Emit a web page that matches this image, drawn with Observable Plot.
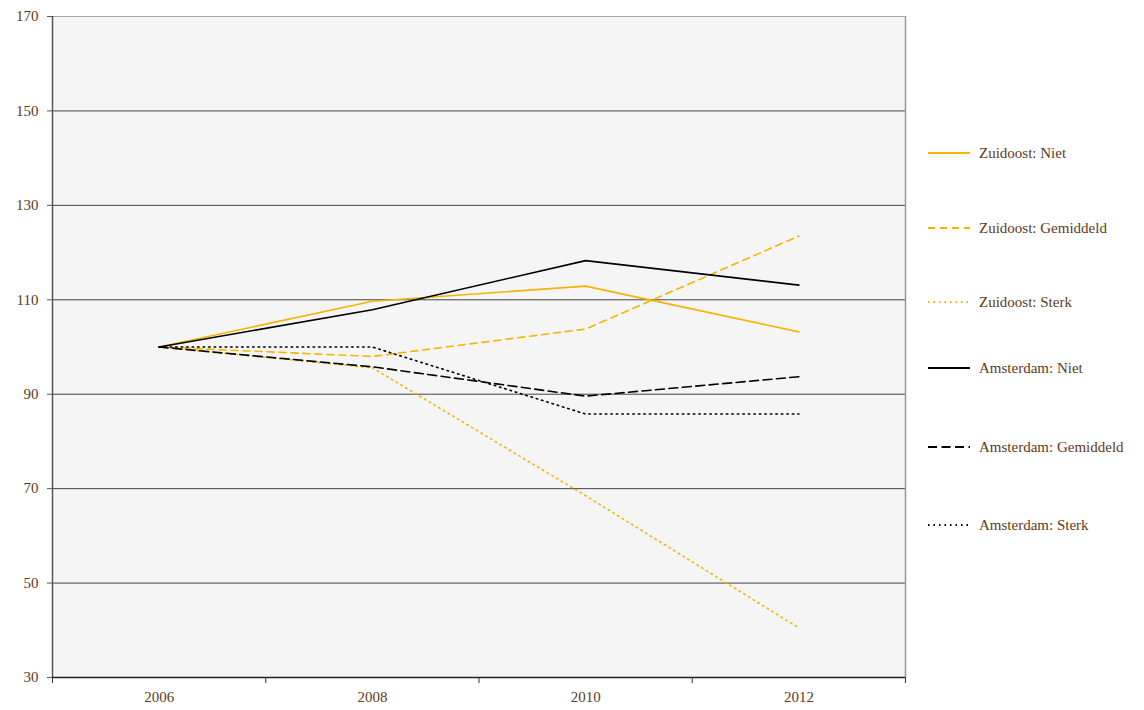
<!DOCTYPE html>
<html>
<head>
<meta charset="utf-8">
<script src="https://cdn.jsdelivr.net/npm/d3@7"></script>
<script src="https://cdn.jsdelivr.net/npm/@observablehq/plot@0.6"></script>
<style>
  body { margin: 0; background: #fff; }
  #wrap { position: relative; width: 1144px; height: 710px; }
  #legend { position: absolute; left: 0; top: 0; width: 1144px; height: 710px; pointer-events: none; }
  .lg { position: absolute; display: flex; align-items: center; font-family: "Liberation Serif", serif; font-size: 15px; color: #5b3b1c; white-space: nowrap; }
  .lg svg { margin-right: 8px; }
</style>
</head>
<body>
<div id="wrap"></div>
<script>
const years = [2006, 2008, 2010, 2012];
const seriesNames = ["Zuidoost: Niet", "Zuidoost: Gemiddeld", "Zuidoost: Sterk", "Amsterdam: Niet", "Amsterdam: Gemiddeld", "Amsterdam: Sterk"];
const zuidoostNiet = [100, 109.7, 112.9, 103.2];
const zuidoostGemiddeld = [100, 98.0, 103.8, 123.5];
const zuidoostSterk = [100, 95.6, 68.5, 40.5];
const amsterdamNiet = [100, 107.9, 118.3, 113.1];
const amsterdamGemiddeld = [100, 95.8, 89.6, 93.7];
const amsterdamSterk = [100, 100, 85.8, 85.8];
const yTicks = [30, 50, 70, 90, 110, 130, 150, 170];

const seriesValues = [zuidoostNiet, zuidoostGemiddeld, zuidoostSterk, amsterdamNiet, amsterdamGemiddeld, amsterdamSterk];
const styles = [
  {stroke: "#f5b400", dash: null},
  {stroke: "#f5b400", dash: "7,5"},
  {stroke: "#f5b400", dash: "1.5,4"},
  {stroke: "#000000", dash: null},
  {stroke: "#000000", dash: "9,4.5"},
  {stroke: "#000000", dash: "1.5,4"}
];
const rows = [];
seriesNames.forEach((name, i) => years.forEach((yr, j) => rows.push({series: name, year: yr, value: seriesValues[i][j]})));
const boundaries = [years[0] - 1, ...years.map(y => y + 1)];

const textColor = "#5b3b1c";
const lineMarks = seriesNames.map((name, i) => Plot.line(rows.filter(d => d.series === name), {
  x: "year", y: "value", stroke: styles[i].stroke, strokeWidth: 1.6,
  strokeDasharray: styles[i].dash || undefined
}));

const chart = Plot.plot({
  width: 1144, height: 710,
  marginLeft: 52, marginRight: 239, marginTop: 16, marginBottom: 33,
  style: {fontFamily: "Liberation Serif, serif", fontSize: "15px", color: textColor, background: "transparent"},
  x: {domain: [boundaries[0], boundaries[boundaries.length - 1]]},
  y: {domain: [yTicks[0], yTicks[yTicks.length - 1]]},
  marks: [
    Plot.frame({fill: "#f5f5f5", stroke: null}),
    Plot.ruleY(yTicks.slice(1, -1), {stroke: "#444", strokeWidth: 1}),
    Plot.ruleY([yTicks[yTicks.length - 1]], {stroke: "#aaa", strokeWidth: 1}),
    Plot.ruleX([boundaries[boundaries.length - 1]], {stroke: "#999", strokeWidth: 1.5}),
    Plot.ruleX([boundaries[0]], {stroke: "#555", strokeWidth: 1.5}),
    ...lineMarks,
    Plot.ruleY([yTicks[0]], {stroke: "#222", strokeWidth: 1.5}),
    Plot.axisY({ticks: yTicks, tickSize: 5, tickPadding: 9, stroke: "#555", fill: textColor, label: null, tickFormat: d => String(d)}),
    Plot.axisX({ticks: boundaries, tickSize: 6, tickFormat: () => "", stroke: "#333", label: null}),
    Plot.axisX({ticks: years, tickSize: 0, tickPadding: 14, fill: textColor, label: null, tickFormat: d => String(d)})
  ]
});
document.getElementById("wrap").appendChild(chart);

// legend
const legend = document.createElement("div");
legend.id = "legend";
const rowY = [153, 228, 302, 368, 447, 525];
seriesNames.forEach((name, i) => {
  const div = document.createElement("div");
  div.className = "lg";
  div.style.left = "927px";
  div.style.top = (rowY[i] - 10) + "px";
  div.style.height = "20px";
  const s = styles[i];
  div.innerHTML = `<svg width="44" height="6"><line x1="1" x2="43" y1="3" y2="3" stroke="${s.stroke}" stroke-width="2" ${s.dash ? `stroke-dasharray="${s.dash}"` : ""}/></svg><span>${name}</span>`;
  legend.appendChild(div);
});
document.getElementById("wrap").appendChild(legend);
</script>
</body>
</html>
